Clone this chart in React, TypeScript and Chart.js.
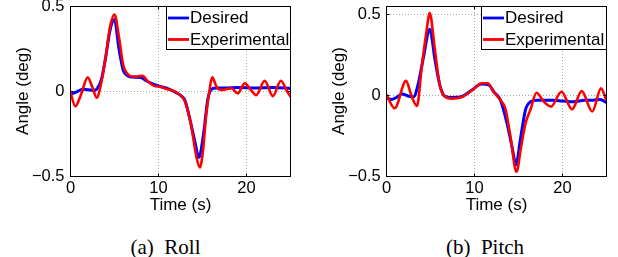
import React, { useEffect, useRef } from "react";
import { Chart, registerables } from "chart.js";

Chart.register(...registerables);

// ---------- data ----------
const xTicks = [0, 10, 20];
const yTicks = [-0.5, 0, 0.5];
const yTickLabels = ["\u22120.5", "0", "0.5"];
const seriesLabels = ["Desired", "Experimental"];

const rollDesiredT = [0, 0.7, 1.4, 2.0, 2.6, 3.0, 3.5, 4.0, 4.5, 5.0, 5.5, 6.0, 6.5, 7.0, 8.0, 8.6, 9.2, 10.0, 11.0, 12.0, 12.6, 13.0, 13.5, 14.1, 14.6, 15.1, 15.6, 16.0, 16.5, 17.5, 19, 21, 23, 25];
const rollDesiredV = [-0.02, -0.005, 0.01, 0.008, 0.004, 0.012, 0.065, 0.2, 0.36, 0.42, 0.25, 0.12, 0.09, 0.082, 0.08, 0.06, 0.045, 0.03, 0.015, -0.01, -0.03, -0.055, -0.15, -0.29, -0.39, -0.26, -0.05, 0.01, 0.018, 0.018, 0.02, 0.018, 0.02, 0.015];

const rollExpT = [0, 0.55, 1.2, 1.95, 2.5, 2.97, 3.5, 4.0, 4.5, 5.0, 5.5, 6.0, 6.5, 7.0, 7.6, 8.2, 8.8, 9.5, 10.1, 10.5, 11.0, 11.6, 12.1, 12.6, 13.0, 13.7, 14.3, 14.7, 15.06, 15.4, 15.8, 16.1, 16.6, 17.1, 17.7, 18.3, 19.0, 19.8, 20.5, 21.1, 22.07, 23.0, 23.9, 24.6, 25];
const rollExpV = [-0.01, -0.09, -0.02, 0.08, 0.02, -0.04, 0.05, 0.2, 0.38, 0.45, 0.32, 0.15, 0.1, 0.085, 0.085, 0.09, 0.055, 0.03, 0.025, 0.02, 0.01, 0.003, -0.01, -0.03, -0.06, -0.2, -0.386, -0.45, -0.35, -0.15, 0.006, 0.08, 0.025, 0.006, 0.01, 0.016, -0.014, 0.045, 0.006, -0.024, 0.06, -0.03, 0.06, 0.0, -0.035];

const pitchDesiredT = [0, 0.6, 1.2, 1.74, 2.5, 3.07, 3.6, 4.2, 4.9, 5.5, 6.1, 6.66, 7.4, 8.56, 9.7, 10.8, 11.6, 12.2, 12.95, 13.7, 14.27, 14.73, 15.2, 15.8, 16.36, 17.1, 18, 19, 20, 21.3, 22.5, 23.5, 24.3, 25];
const pitchDesiredV = [-0.019, -0.025, -0.01, 0.008, -0.005, -0.008, 0.074, 0.24, 0.41, 0.22, 0.053, -0.007, -0.013, -0.007, 0.033, 0.07, 0.065, 0.022, -0.03, -0.174, -0.32, -0.43, -0.28, -0.09, -0.04, -0.03, -0.03, -0.03, -0.035, -0.04, -0.03, -0.03, -0.025, -0.045];

const pitchExpT = [0, 0.9, 2.2, 2.8, 3.44, 4.0, 4.5, 4.9, 5.45, 6.0, 6.66, 7.4, 8.56, 9.7, 10.8, 11.5, 12.2, 12.95, 13.5, 14.1, 14.77, 15.3, 15.8, 16.36, 17.05, 17.9, 18.7, 19.9, 21.1, 22.2, 23.4, 24.4, 25];
const pitchExpV = [0.002, -0.08, 0.09, 0.0, -0.066, 0.18, 0.385, 0.51, 0.3, 0.074, -0.01, -0.02, -0.01, 0.03, 0.075, 0.075, 0.02, -0.03, -0.08, -0.26, -0.474, -0.32, -0.174, -0.09, 0.016, -0.04, -0.07, 0.022, -0.087, 0.026, -0.1, 0.043, -0.03];

// ---------- styling ----------
const SANS = "'Liberation Sans', Arial, Helvetica, sans-serif";
const CANVAS_W = 309;
const CANVAS_H = 220;

const pts = (t: number[], v: number[]) => t.map((x, i) => ({ x, y: v[i] }));
const snap = (v: number) => Math.floor(v) + 0.5;

const framePlugin = {
  id: "matlabFrame",
  afterDatasetsDraw(chart: any) {
    const { ctx, chartArea: a, scales } = chart;
    const L = snap(a.left), R = snap(a.right), T = snap(a.top), B = snap(a.bottom);
    ctx.save();
    ctx.setLineDash([]);
    ctx.strokeStyle = "#000";
    ctx.lineWidth = 1;
    ctx.strokeRect(L, T, R - L, B - T);
    const tl = 3;
    ctx.beginPath();
    for (const v of xTicks) {
      const x = snap(scales.x.getPixelForValue(v));
      ctx.moveTo(x, B); ctx.lineTo(x, B - tl);
      ctx.moveTo(x, T); ctx.lineTo(x, T + tl);
    }
    for (const v of yTicks) {
      const y = snap(scales.y.getPixelForValue(v));
      ctx.moveTo(L, y); ctx.lineTo(L + tl, y);
      ctx.moveTo(R, y); ctx.lineTo(R - tl, y);
    }
    ctx.stroke();

    // legend (top-right, inside axes)
    const w = 124.5, h = 43;
    const x0 = snap(a.right - w), y0 = T;
    ctx.fillStyle = "#fff";
    ctx.fillRect(x0, y0, R - x0, h);
    ctx.strokeRect(x0, y0, R - x0, h);
    const rows = [11.5, 33];
    chart.data.datasets.forEach((ds: any, i: number) => {
      const y = y0 + rows[i];
      ctx.beginPath();
      ctx.strokeStyle = ds.borderColor;
      ctx.lineWidth = 2.8;
      ctx.moveTo(x0 + 1.5, y);
      ctx.lineTo(x0 + 22.5, y);
      ctx.stroke();
      ctx.fillStyle = "#000";
      ctx.font = `17px ${SANS}`;
      ctx.textBaseline = "middle";
      ctx.textAlign = "left";
      ctx.fillText(ds.label, x0 + 23.5, y + 0.5);
    });
    ctx.restore();
  },
};

type PanelProps = {
  left: number;
  axisWidth: number;
  padRight: number;
  yMax: number;
  yTitlePad: number;
  desiredT: number[];
  desiredV: number[];
  expT: number[];
  expV: number[];
};

function Panel(p: PanelProps) {
  const ref = useRef<HTMLCanvasElement | null>(null);
  useEffect(() => {
    if (!ref.current) return;
    const tickFont = { family: SANS, size: 16.5 };
    const titleFont = { family: SANS, size: 17 };
    const chart = new Chart(ref.current, {
      type: "line",
      data: {
        datasets: [
          {
            label: seriesLabels[0],
            data: pts(p.desiredT, p.desiredV),
            borderColor: "#0000ff",
            borderWidth: 3,
            pointRadius: 0,
            cubicInterpolationMode: "monotone",
            fill: false,
            order: 1,
          },
          {
            label: seriesLabels[1],
            data: pts(p.expT, p.expV),
            borderColor: "#ff0000",
            borderWidth: 2.6,
            pointRadius: 0,
            cubicInterpolationMode: "monotone",
            fill: false,
            order: 0,
          },
        ],
      },
      options: {
        animation: false,
        responsive: false,
        devicePixelRatio: 1,
        layout: { padding: { top: 6, right: p.padRight, left: 0, bottom: CANVAS_H - 216 } },
        plugins: { legend: { display: false }, tooltip: { enabled: false } },
        scales: {
          x: {
            type: "linear",
            min: 0,
            max: 25,
            afterBuildTicks: (s: any) => { s.ticks = xTicks.map((value) => ({ value })); },
            afterFit: (s: any) => { s.height = 40; s.paddingLeft = 0; s.paddingRight = 0; },
            grid: { color: "#a8a8a8", lineWidth: 1, drawTicks: false },
            border: { display: false, dash: [1, 2] },
            ticks: { padding: 3, color: "#000", font: tickFont, maxRotation: 0, autoSkip: false },
            title: { display: true, text: "Time (s)", color: "#000", font: titleFont, padding: { top: 0, bottom: 0 } },
          },
          y: {
            type: "linear",
            min: -0.5,
            max: p.yMax,
            afterBuildTicks: (s: any) => { s.ticks = yTicks.map((value) => ({ value })); },
            afterFit: (s: any) => { s.width = p.axisWidth; s.paddingTop = 0; s.paddingBottom = 0; },
            grid: { color: "#a8a8a8", lineWidth: 1, drawTicks: false },
            border: { display: false, dash: [1, 2] },
            ticks: {
              padding: 6,
              color: "#000",
              font: tickFont,
              autoSkip: false,
              callback: (v: any) => {
                const i = yTicks.indexOf(Number(v));
                return i >= 0 ? yTickLabels[i] : "";
              },
            },
            title: { display: true, text: "Angle (deg)", color: "#000", font: titleFont, padding: { top: p.yTitlePad, bottom: 0 } },
          },
        },
      },
      plugins: [framePlugin],
    } as any);
    return () => chart.destroy();
  }, []);
  return (
    <canvas
      ref={ref}
      width={CANVAS_W}
      height={CANVAS_H}
      style={{ position: "absolute", left: p.left, top: 0, width: CANVAS_W, height: CANVAS_H }}
    />
  );
}

const captionStyle = (center: number): React.CSSProperties => ({
  position: "absolute",
  left: center - 100,
  width: 200,
  top: 235,
  textAlign: "center",
  fontFamily: "'Liberation Serif', 'Times New Roman', serif",
  fontSize: 21,
  lineHeight: "24px",
  whiteSpace: "pre",
  color: "#000",
});

export default function App() {
  return (
    <div style={{ position: "absolute", left: 0, top: 0, width: 618, height: 257, background: "#fff", overflow: "hidden" }}>
      <Panel left={0} axisWidth={70.5} padRight={18.5} yMax={0.5} yTitlePad={13}
        desiredT={rollDesiredT} desiredV={rollDesiredV} expT={rollExpT} expV={rollExpV} />
      <Panel left={309} axisWidth={77.7} padRight={11.7} yMax={0.554} yTitlePad={20}
        desiredT={pitchDesiredT} desiredV={pitchDesiredV} expT={pitchExpT} expV={pitchExpV} />
      <div style={captionStyle(165.5)}>{"(a)  Roll"}</div>
      <div style={captionStyle(485)}>{"(b)  Pitch"}</div>
    </div>
  );
}
